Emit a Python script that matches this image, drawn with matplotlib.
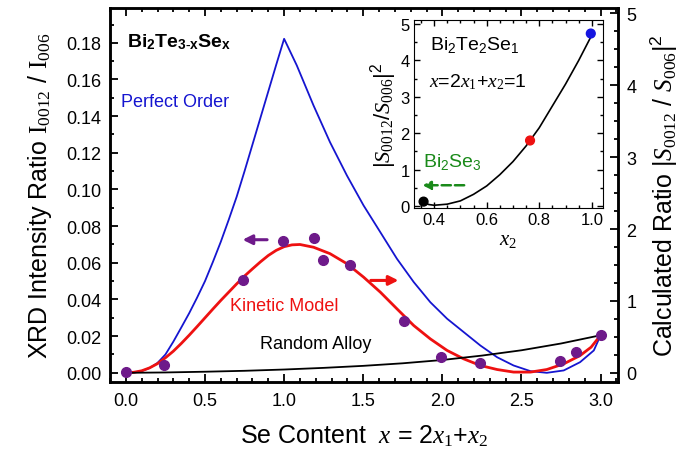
import numpy as np
import matplotlib
matplotlib.use('Agg')
import matplotlib.pyplot as plt
from matplotlib.ticker import MultipleLocator

plt.rcParams['font.family'] = 'Liberation Sans'
plt.rcParams['mathtext.fontset'] = 'custom'
plt.rcParams['mathtext.rm'] = 'Liberation Serif'
plt.rcParams['mathtext.it'] = 'Liberation Serif:italic'
plt.rcParams['mathtext.sf'] = 'Liberation Sans'
plt.rcParams['mathtext.bf'] = 'Liberation Sans:bold'

# ---- main panel data ----
x_perfect = [0.0, 0.05, 0.1, 0.15, 0.2, 0.25, 0.3, 0.35, 0.4, 0.45, 0.5, 0.55, 0.6, 0.65,
             0.7, 0.75, 0.8, 0.85, 0.9, 0.95, 1.0,
             1.08, 1.186, 1.29, 1.397, 1.502, 1.608, 1.713, 1.819, 1.924, 2.03, 2.135,
             2.24, 2.346, 2.45, 2.557, 2.66, 2.767, 2.87, 2.957, 3.0]
y_perfect = [0.0, 0.0002, 0.0010, 0.0026, 0.0054, 0.0100, 0.0170, 0.0247, 0.0325, 0.0410, 0.0500, 0.0605, 0.0715, 0.0835,
             0.0960, 0.1100, 0.1245, 0.1390, 0.1535, 0.1680, 0.1822,
             0.1677, 0.1458, 0.1258, 0.1076, 0.0913, 0.0767, 0.0622, 0.0495, 0.0385, 0.0295, 0.0222,
             0.0149, 0.0085, 0.0040, 0.0009, 0.0000, 0.0013, 0.0058, 0.0122, 0.0205]

x_kinetic = [0.0, 0.05, 0.1, 0.15, 0.2, 0.25, 0.3, 0.35, 0.4, 0.45, 0.5, 0.55, 0.6, 0.65,
             0.7, 0.75, 0.8, 0.85, 0.9, 0.95, 1.0, 1.05, 1.1,
             1.186, 1.29, 1.397, 1.502, 1.608, 1.713, 1.819, 1.924, 2.03, 2.135,
             2.24, 2.346, 2.45, 2.557, 2.66, 2.767, 2.87, 2.94, 3.0]
y_kinetic = [0.0, 0.0003, 0.0011, 0.0027, 0.0050, 0.0082, 0.0118, 0.0160, 0.0205, 0.0252, 0.0300, 0.0348, 0.0395, 0.0440,
             0.0485, 0.0528, 0.0567, 0.0605, 0.0640, 0.0668, 0.0688, 0.0698, 0.0700,
             0.0685, 0.0650, 0.0595, 0.0522, 0.0440, 0.0349, 0.0258, 0.0185, 0.0122, 0.0076,
             0.0040, 0.0018, 0.0004, 0.0004, 0.0018, 0.0049, 0.0094, 0.0140, 0.0205]

x_random = [0.0, 0.25, 0.5, 0.75, 1.0, 1.25, 1.5, 1.75, 2.0, 2.25, 2.5, 2.75, 3.0]
y_random = [0.0, 0.0002, 0.0006, 0.0011, 0.0018, 0.0027, 0.0038, 0.0052, 0.0070, 0.0094, 0.0123, 0.0160, 0.0205]

x_exp = [0.0, 0.243, 0.738, 0.996, 1.186, 1.243, 1.414, 1.755, 1.993, 2.24, 2.742, 2.846, 3.0]
y_exp = [0.0002, 0.0045, 0.0504, 0.0718, 0.0735, 0.0613, 0.0590, 0.0282, 0.0085, 0.0051, 0.0062, 0.0113, 0.0205]

# ---- inset data ----
x2_curve = [0.36, 0.38, 0.40, 0.45, 0.50, 0.55, 0.60, 0.65, 0.70, 0.75, 0.80, 0.85, 0.90, 0.95, 1.0]
s_curve = [0.10, 0.04, 0.02, 0.05, 0.14, 0.32, 0.55, 0.86, 1.22, 1.65, 2.15, 2.75, 3.35, 4.00, 4.70]
x2_pts = [0.36, 0.765, 0.996]
s_pts = [0.12, 1.80, 4.74]
pt_colors = ['black', '#ee1111', '#1515e0']

blue = '#1515d0'
red = '#ee1111'
purple = '#6e1a8a'
green = '#1a8a1a'

fig = plt.figure(figsize=(6.89, 4.64), dpi=100)
ax = fig.add_axes([0.1597, 0.1746, 0.7373, 0.806])

ax.plot(x_perfect, y_perfect, color=blue, lw=1.3)
ax.plot(x_kinetic, y_kinetic, color=red, lw=2.0)
ax.plot(x_random, y_random, color='black', lw=1.3)
ax.plot(x_exp, y_exp, 'o', color=purple, ms=7, mec=purple)

ax.set_xlim(-0.1, 3.11)
ax.set_ylim(-0.005, 0.199)
ax.xaxis.set_minor_locator(MultipleLocator(0.1))
ax.yaxis.set_minor_locator(MultipleLocator(0.01))
ax.set_xticks(np.arange(0, 3.01, 0.5))
ax.set_xticklabels(['%.1f' % v for v in np.arange(0, 3.01, 0.5)])
ax.set_yticks(np.arange(0, 0.181, 0.02))
ax.set_yticklabels(['%.2f' % v for v in np.arange(0, 0.181, 0.02)])
ax.tick_params(which='both', direction='in', top=True, labelsize=13, width=1.3)
ax.tick_params(which='major', length=6)
ax.tick_params(which='minor', length=3)
ax.tick_params(axis='x', pad=7)
ax.tick_params(axis='y', pad=6)
for s in ax.spines.values():
    s.set_linewidth(1.8)

ax.set_xlabel(r'Se Content  $\mathit{x}$ = 2$\mathit{x_1}$+$\mathit{x_2}$', fontsize=18, labelpad=10)
ax.set_ylabel(r'XRD Intensity Ratio $\mathrm{I}_{\mathit{0012}}$ / $\mathrm{I}_{\mathit{006}}$', fontsize=18, labelpad=9)

ax2 = ax.twinx()
ax2.set_ylim(-0.125, 5.07)
ax2.yaxis.set_minor_locator(MultipleLocator(0.25))
ax2.set_yticks([0, 1, 2, 3, 4, 5])
ax2.tick_params(which='both', direction='in', labelsize=13, width=1.3, pad=6)
ax2.tick_params(which='major', length=6)
ax2.tick_params(which='minor', length=3)
ax2.set_ylabel(r'Calculated Ratio |$\mathit{S_{0012}}$ / $\mathit{S_{006}}$|$\mathsf{^2}$',
               fontsize=18, rotation=90, labelpad=9)
for s in ax2.spines.values():
    s.set_linewidth(1.8)

# annotations
ax.text(0.01, 0.181, r'Bi$_\mathbf{2}$Te$_\mathbf{3{\text{-}}x}$Se$_\mathbf{x}$', fontsize=14,
        fontweight='bold', va='center')
ax.text(-0.03, 0.148, 'Perfect Order', color=blue, fontsize=13, va='center')
ax.text(0.66, 0.0365, 'Kinetic Model', color=red, fontsize=13, va='center')
ax.text(0.85, 0.0158, 'Random Alloy', color='black', fontsize=13, va='center')
ax.annotate('', xy=(0.72, 0.0726), xytext=(0.91, 0.0726),
            arrowprops=dict(arrowstyle='-|>', color=purple, lw=2.2, mutation_scale=14))
ax.annotate('', xy=(1.74, 0.0504), xytext=(1.53, 0.0504),
            arrowprops=dict(arrowstyle='-|>', color=red, lw=2.2, mutation_scale=14))

# inset
axi = fig.add_axes([0.601, 0.5496, 0.274, 0.405])
axi.plot(x2_curve, s_curve, color='black', lw=1.2)
axi.scatter(x2_pts, s_pts, c=pt_colors, s=40, zorder=3)
axi.set_xlim(0.324, 1.042)
axi.set_ylim(-0.055, 5.11)
axi.xaxis.set_minor_locator(MultipleLocator(0.05))
axi.yaxis.set_minor_locator(MultipleLocator(0.5))
axi.set_xticks([0.4, 0.6, 0.8, 1.0])
axi.set_xticklabels(['0.4', '0.6', '0.8', '1.0'])
axi.set_yticks([0, 1, 2, 3, 4, 5])
axi.tick_params(which='both', direction='in', top=True, right=True, labelsize=12, width=1.0, pad=3)
axi.tick_params(which='major', length=4)
axi.tick_params(which='minor', length=2)
axi.set_xlabel(r'$\mathit{x_2}$', fontsize=15, labelpad=2)
axi.set_ylabel(r'|$\mathit{S_{0012}}$/$\mathit{S_{006}}$|$\mathsf{^2}$', fontsize=16, labelpad=1)
axi.text(0.385, 4.45, r'Bi$\mathsf{_2}$Te$\mathsf{_2}$Se$\mathsf{_1}$', fontsize=14, va='center')
axi.text(0.38, 3.43, r'$\mathit{x}$=2$\mathit{x_1}$+$\mathit{x_2}$=1', fontsize=14, va='center')
axi.text(0.357, 1.23, r'Bi$\mathsf{_2}$Se$\mathsf{_3}$', fontsize=14, color=green, va='center')
axi.annotate('', xy=(0.345, 0.57), xytext=(0.525, 0.57),
             arrowprops=dict(arrowstyle='-|>', color=green, lw=1.8, ls='--', mutation_scale=12))

fig.savefig('out.png', dpi=100)
